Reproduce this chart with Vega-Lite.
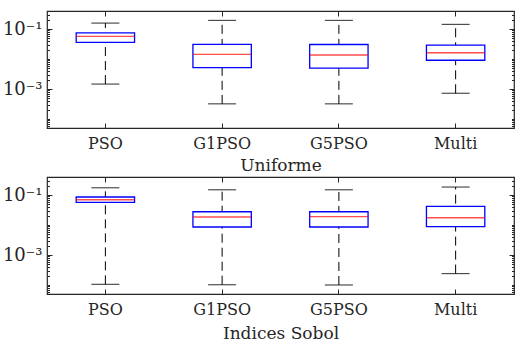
{
  "$schema": "https://vega.github.io/schema/vega-lite/v6.json",
  "padding": {"left": 1, "top": 9, "right": 6, "bottom": 0},
  "background": "white",
  "datasets": {
    "stats": [
      {"set": "Uniforme", "alg": "PSO", "min": 0.00146, "q1": 0.036, "median": 0.057, "q3": 0.074, "max": 0.158},
      {"set": "Uniforme", "alg": "G1PSO", "min": 0.00032, "q1": 0.0052, "median": 0.0143, "q3": 0.031, "max": 0.194},
      {"set": "Uniforme", "alg": "G5PSO", "min": 0.00032, "q1": 0.0050, "median": 0.0136, "q3": 0.0305, "max": 0.194},
      {"set": "Uniforme", "alg": "Multi", "min": 0.00072, "q1": 0.0091, "median": 0.0162, "q3": 0.029, "max": 0.143},
      {"set": "Sobol", "alg": "PSO", "min": 0.000105, "q1": 0.057, "median": 0.070, "q3": 0.086, "max": 0.175},
      {"set": "Sobol", "alg": "G1PSO", "min": 0.000102, "q1": 0.0086, "median": 0.0185, "q3": 0.0277, "max": 0.150},
      {"set": "Sobol", "alg": "G5PSO", "min": 0.0001, "q1": 0.0086, "median": 0.019, "q3": 0.0277, "max": 0.150},
      {"set": "Sobol", "alg": "Multi", "min": 0.00024, "q1": 0.0088, "median": 0.0175, "q3": 0.042, "max": 0.185}
    ]
  },
  "spacing": 1,
  "vconcat": [
    {
      "width": 467, "height": 117,
      "data": {"name": "stats"},
      "transform": [{"filter": "datum.set == 'Uniforme'"}],
      "layer": [
        {
          "mark": {"type": "rule", "color": "black", "strokeDash": [9, 5], "strokeWidth": 1},
          "encoding": {
            "x": {"field": "alg", "type": "nominal", "sort": ["PSO", "G1PSO", "G5PSO", "Multi"], "scale": {"paddingInner": 0, "paddingOuter": 0},
              "axis": {"orient": "bottom", "title": "Uniforme", "labelAngle": 0, "domain": false, "tickSize": -5, "labelPadding": 12, "titlePadding": 6}},
            "y": {"field": "min", "type": "quantitative", "scale": {"type": "log", "domain": [0.00005, 0.4], "nice": false},
              "axis": {"orient": "left", "title": null, "domain": false, "grid": false,
                "values": [0.00005, 0.00006, 0.00007, 0.00008, 0.00009, 0.0001, 0.0002, 0.0003, 0.0004, 0.0005, 0.0006, 0.0007, 0.0008, 0.0009, 0.001, 0.002, 0.003, 0.004, 0.005, 0.006, 0.007, 0.008, 0.009, 0.01, 0.02, 0.03, 0.04, 0.05, 0.06, 0.07, 0.08, 0.09, 0.1, 0.2, 0.3, 0.4],
                "labelExpr": "datum.value == 0.1 ? '10⁻¹' : (datum.value == 0.001 ? '10⁻³' : '')",
                "tickSize": {"condition": {"test": "datum.value == 0.1 || datum.value == 0.001", "value": -5}, "value": -2.5},
                "labelPadding": 10, "labelFontSize": 18}},
            "y2": {"field": "max"}
          }
        },
        {
          "mark": {"type": "bar", "fill": "white", "stroke": "#0000ff", "strokeWidth": 1.3, "width": {"band": 0.5}},
          "encoding": {
            "x": {"field": "alg", "type": "nominal", "sort": ["PSO", "G1PSO", "G5PSO", "Multi"],
              "axis": {"orient": "top", "title": null, "labels": false, "domain": false, "tickSize": -5}},
            "y": {"field": "q1", "type": "quantitative",
              "axis": {"orient": "right", "title": null, "labels": false, "domain": false, "grid": false,
                "values": [0.00005, 0.00006, 0.00007, 0.00008, 0.00009, 0.0001, 0.0002, 0.0003, 0.0004, 0.0005, 0.0006, 0.0007, 0.0008, 0.0009, 0.001, 0.002, 0.003, 0.004, 0.005, 0.006, 0.007, 0.008, 0.009, 0.01, 0.02, 0.03, 0.04, 0.05, 0.06, 0.07, 0.08, 0.09, 0.1, 0.2, 0.3, 0.4],
                "tickSize": {"condition": {"test": "datum.value == 0.1 || datum.value == 0.001", "value": -5}, "value": -2.5}}},
            "y2": {"field": "q3"}
          }
        },
        {
          "mark": {"type": "tick", "color": "#ff0000", "thickness": 1.4, "size": 58},
          "encoding": {
            "x": {"field": "alg", "type": "nominal", "sort": ["PSO", "G1PSO", "G5PSO", "Multi"], "axis": null},
            "y": {"field": "median", "type": "quantitative", "axis": null}
          }
        },
        {
          "mark": {"type": "tick", "color": "black", "thickness": 1.2, "size": 28},
          "encoding": {
            "x": {"field": "alg", "type": "nominal", "sort": ["PSO", "G1PSO", "G5PSO", "Multi"], "axis": null},
            "y": {"field": "min", "type": "quantitative", "axis": null}
          }
        },
        {
          "mark": {"type": "tick", "color": "black", "thickness": 1.2, "size": 28},
          "encoding": {
            "x": {"field": "alg", "type": "nominal", "sort": ["PSO", "G1PSO", "G5PSO", "Multi"], "axis": null},
            "y": {"field": "max", "type": "quantitative", "axis": null}
          }
        }
      ],
      "resolve": {"axis": {"x": "independent", "y": "independent"}}
    },
    {
      "width": 467, "height": 117,
      "data": {"name": "stats"},
      "transform": [{"filter": "datum.set == 'Sobol'"}],
      "layer": [
        {
          "mark": {"type": "rule", "color": "black", "strokeDash": [9, 5], "strokeWidth": 1},
          "encoding": {
            "x": {"field": "alg", "type": "nominal", "sort": ["PSO", "G1PSO", "G5PSO", "Multi"], "scale": {"paddingInner": 0, "paddingOuter": 0},
              "axis": {"orient": "bottom", "title": "Indices Sobol", "labelAngle": 0, "domain": false, "tickSize": -5, "labelPadding": 12, "titlePadding": 8}},
            "y": {"field": "min", "type": "quantitative", "scale": {"type": "log", "domain": [0.00005, 0.4], "nice": false},
              "axis": {"orient": "left", "title": null, "domain": false, "grid": false,
                "values": [0.00005, 0.00006, 0.00007, 0.00008, 0.00009, 0.0001, 0.0002, 0.0003, 0.0004, 0.0005, 0.0006, 0.0007, 0.0008, 0.0009, 0.001, 0.002, 0.003, 0.004, 0.005, 0.006, 0.007, 0.008, 0.009, 0.01, 0.02, 0.03, 0.04, 0.05, 0.06, 0.07, 0.08, 0.09, 0.1, 0.2, 0.3, 0.4],
                "labelExpr": "datum.value == 0.1 ? '10⁻¹' : (datum.value == 0.001 ? '10⁻³' : '')",
                "tickSize": {"condition": {"test": "datum.value == 0.1 || datum.value == 0.001", "value": -5}, "value": -2.5},
                "labelPadding": 10, "labelFontSize": 18}},
            "y2": {"field": "max"}
          }
        },
        {
          "mark": {"type": "bar", "fill": "white", "stroke": "#0000ff", "strokeWidth": 1.3, "width": {"band": 0.5}},
          "encoding": {
            "x": {"field": "alg", "type": "nominal", "sort": ["PSO", "G1PSO", "G5PSO", "Multi"],
              "axis": {"orient": "top", "title": null, "labels": false, "domain": false, "tickSize": -5}},
            "y": {"field": "q1", "type": "quantitative",
              "axis": {"orient": "right", "title": null, "labels": false, "domain": false, "grid": false,
                "values": [0.00005, 0.00006, 0.00007, 0.00008, 0.00009, 0.0001, 0.0002, 0.0003, 0.0004, 0.0005, 0.0006, 0.0007, 0.0008, 0.0009, 0.001, 0.002, 0.003, 0.004, 0.005, 0.006, 0.007, 0.008, 0.009, 0.01, 0.02, 0.03, 0.04, 0.05, 0.06, 0.07, 0.08, 0.09, 0.1, 0.2, 0.3, 0.4],
                "tickSize": {"condition": {"test": "datum.value == 0.1 || datum.value == 0.001", "value": -5}, "value": -2.5}}},
            "y2": {"field": "q3"}
          }
        },
        {
          "mark": {"type": "tick", "color": "#ff0000", "thickness": 1.4, "size": 58},
          "encoding": {
            "x": {"field": "alg", "type": "nominal", "sort": ["PSO", "G1PSO", "G5PSO", "Multi"], "axis": null},
            "y": {"field": "median", "type": "quantitative", "axis": null}
          }
        },
        {
          "mark": {"type": "tick", "color": "black", "thickness": 1.2, "size": 28},
          "encoding": {
            "x": {"field": "alg", "type": "nominal", "sort": ["PSO", "G1PSO", "G5PSO", "Multi"], "axis": null},
            "y": {"field": "min", "type": "quantitative", "axis": null}
          }
        },
        {
          "mark": {"type": "tick", "color": "black", "thickness": 1.2, "size": 28},
          "encoding": {
            "x": {"field": "alg", "type": "nominal", "sort": ["PSO", "G1PSO", "G5PSO", "Multi"], "axis": null},
            "y": {"field": "max", "type": "quantitative", "axis": null}
          }
        }
      ],
      "resolve": {"axis": {"x": "independent", "y": "independent"}}
    }
  ],
  "config": {
    "font": "DejaVu Serif",
    "view": {"stroke": "#262626", "strokeWidth": 1.2},
    "axis": {"labelFont": "DejaVu Serif", "labelFontSize": 16, "labelColor": "#262626", "tickColor": "#262626", "tickWidth": 1, "titleFont": "DejaVu Serif", "titleFontSize": 17, "titleFontWeight": "normal", "titleColor": "#262626"}
  }
}
